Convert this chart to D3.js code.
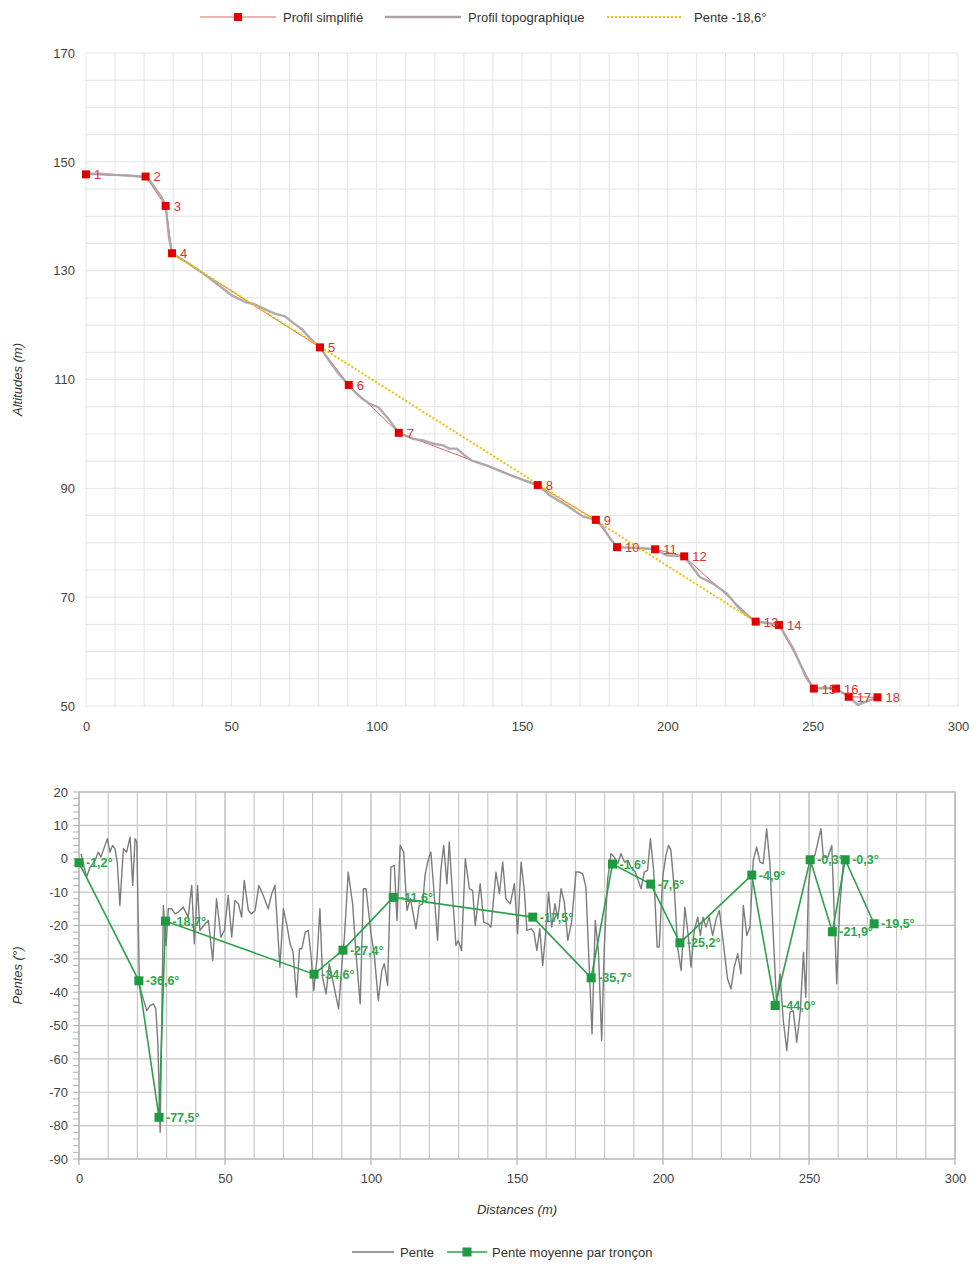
<!DOCTYPE html>
<html>
<head>
<meta charset="utf-8">
<script src="https://cdn.jsdelivr.net/npm/d3@7"></script>
<style>
  body { margin: 0; background: #fff; }
  svg { display: block; font-family: "Liberation Sans", Arial, sans-serif; }
</style>
</head>
<body>
<script>
// --- profil simplifie (points numerotes) ---
var distSimpl = [0, 20.5, 27.4, 29.6, 80.5, 90.4, 107.6, 155.4, 175.4, 182.7, 195.8, 205.8, 230.4, 238.4, 250.4, 258, 262.4, 272.3];
var altSimpl = [147.7, 147.3, 141.9, 133.2, 115.9, 109.0, 100.2, 90.6, 84.2, 79.2, 78.8, 77.5, 65.5, 64.9, 53.2, 53.2, 51.7, 51.6];
var pointLabels = ["1","2","3","4","5","6","7","8","9","10","11","12","13","14","15","16","17","18"];

// --- profil topographique ---
var distTopo = [0, 5, 10, 15, 18, 20.5, 22, 24, 26, 27.4, 28, 28.6, 29.6, 35, 40, 45, 50, 55, 57.6, 62, 65, 68.5, 71, 74.2, 77, 80.5, 84, 87, 90.4, 92.5, 95, 97.7, 100.6, 104, 107.6, 112.6, 116, 119.5, 122.9, 125, 127.5, 130, 132.7, 137.8, 144.7, 151.6, 155.4, 159.6, 165.3, 171, 175.4, 177.4, 180.3, 182.7, 186.6, 191, 195.8, 199.7, 205.8, 211.2, 216, 220.4, 223.8, 227, 230.4, 234, 238.4, 243.3, 247.9, 250.4, 254, 258, 262.4, 265.5, 269.7, 272.3];
var altTopo = [147.8, 147.8, 147.6, 147.5, 147.3, 147.3, 146.5, 145, 143.5, 142, 139, 136, 133.2, 131.4, 129.6, 127.6, 125.5, 124.2, 123.9, 122.8, 122.1, 121.6, 120.5, 119.3, 117.6, 115.9, 113.2, 111, 109, 107.7, 106.5, 105.5, 104.9, 102.8, 100.2, 99.1, 98.8, 98.2, 97.9, 97.3, 97.3, 96.2, 95.1, 94.2, 92.7, 91.3, 90.6, 88.7, 86.9, 84.8, 84.2, 83.2, 80.8, 79.2, 79.1, 79.0, 78.8, 77.7, 77.5, 73.7, 72.4, 70.7, 68.5, 66.8, 65.5, 65.3, 64.9, 60.6, 55.1, 53.2, 53.3, 53.2, 51.7, 50.2, 51.1, 51.6];

// --- droite de pente moyenne (-18,6 deg) ---
var penteDist = [29.6, 230.4];
var penteAlt = [133.2, 65.5];

// --- pente moyenne par troncon (en degres) ---
var penteMoyenne = [-1.2, -36.6, -77.5, -18.7, -34.6, -27.4, -11.6, -17.5, -35.7, -1.6, -7.6, -25.2, -4.9, -44.0, -0.3, -21.9, -0.3, -19.5];

// --- pente brute ---
var distPente = [0.7, 2.6, 3.8, 5.5, 6.6, 7.5, 8.3, 9.7, 10.6, 11.5, 12.3, 13.1, 14.0, 15.2, 16.3, 17.5, 18.4, 19.2, 19.8, 20.7, 22, 23.2, 24.3, 25.5, 26.3, 27.0, 27.8, 28.9, 29.8, 30.6, 31.7, 32.9, 34, 35.7, 37.4, 38.6, 39.5, 40.6, 41.4, 43.2, 44.3, 45.8, 47.1, 48.6, 49.8, 51.1, 52.3, 53.4, 54.6, 55.7, 56.6, 58, 59.1, 60.3, 61.6, 63.1, 64.8, 66, 67.1, 68.8, 70, 71.2, 72.3, 73.3, 74.5, 75.5, 76.3, 77.5, 78.5, 79.4, 80.4, 81.5, 82.5, 83.4, 84.6, 85.7, 86.8, 88.9, 90, 90.9, 92.2, 93.7, 95, 96.3, 97.4, 98.3, 100, 101.1, 102.5, 103.7, 104.6, 105.7, 106.8, 108, 108.9, 110, 111.2, 112.3, 113.5, 115.4, 116.5, 117.7, 118.5, 119.4, 120.5, 121.5, 122.8, 123.9, 124.9, 126, 126.8, 128, 129.1, 129.9, 131, 132.3, 133.7, 134.8, 135.7, 137.4, 138.6, 140, 141.1, 142.8, 144, 145.1, 146.2, 147.7, 149.1, 150.2, 151.4, 152.5, 153.4, 154.8, 155.8, 156.8, 157.8, 158.8, 159.9, 160.8, 161.9, 163, 164, 165.1, 166.2, 167.4, 168.7, 170.2, 171.3, 172.5, 173.6, 174.4, 175.7, 176.8, 177.9, 179, 179.9, 181, 182.2, 183.3, 184.5, 185.6, 186.8, 188, 189, 190.5, 192.5, 193.6, 194.7, 195.7, 196.8, 198, 198.7, 199.9, 201, 201.9, 202.7, 203.9, 205, 206.2, 207.5, 208.7, 209.6, 210.7, 211.9, 212.8, 213.7, 214.7, 215.8, 217, 218.2, 219.3, 220.5, 222.1, 223.3, 224.4, 225.6, 226.7, 227.5, 228.7, 229.8, 230.9, 232.1, 233.2, 234.3, 235.5, 236.6, 237.8, 238.9, 240.1, 241.2, 242.4, 243.5, 244.6, 245.8, 247, 248.1, 248.9, 249.8, 250.9, 252, 253.2, 254.1, 254.9, 256.5, 257.8, 258.9, 259.5, 260.5, 261.8];
var valPente = [1.5, -5.5, -2.5, -0.5, 2, 0.5, 2.5, 6, 2, 4, 3, -1, -14, 3, 2, 6.5, -8, 6, 5, -38, -42, -45.5, -44, -43.5, -45, -55, -82, -14, -26, -15, -15, -16.5, -16, -14.5, -17.5, -8, -25.5, -8, -21.5, -19.5, -18.5, -30.5, -12, -23.5, -21.5, -11, -23.5, -12.5, -13.5, -17.5, -6.5, -15.5, -16.5, -15.5, -8, -11, -15, -10.5, -8, -32.5, -15, -20, -25.5, -28, -41.5, -27, -27, -22, -21.5, -28.5, -39.5, -30, -15, -35.5, -40.5, -31.5, -36, -45, -32, -23.5, -4, -13.5, -30, -43.5, -9, -9, -22.5, -28.5, -42.5, -33.5, -31.5, -38, -2.5, -2, -18.5, 4, 2, -15.5, -12, -21, -14, -13.5, -5, -1, 2, -9, -24.5, -3.5, 4, -7.5, 5, -12, -26, -24.5, -27.5, 0, -9, -9.5, -20, -7.5, -19, -19.5, -20.5, -4, -10.5, -1, -12, -13.5, -7.5, -22.5, -1, -9.5, -21.5, -21, -22, -27.5, -21, -32, -21.5, -10, -20.5, -13.5, -18, -9, -13, -24.5, -19, -4, -4, -4.5, -8.5, -25.5, -52.5, -18.5, -28, -54.5, -26.5, -6.5, 1.5, 0.5, -1.5, 1.5, -1, -0.5, -2.5, -4, -9, -4, -3.5, 6, -3.5, -26.5, -26.5, -5.5, 1, 4, 2.5, -9.5, -26.5, -33.5, -14.5, -23.5, -32.5, -21.5, -17.5, -23, -17.5, -20.5, -17.5, -23, -18, -15.5, -24, -36, -39, -32.5, -28.5, -34.5, -14, -23, -20.5, -0.5, 3.5, -1, -1.5, 9, -1.5, -23.5, -43.5, -34.5, -48.5, -57.5, -46, -45.5, -55, -46, -28, -41.5, -8.5, 0.5, 1, 5.5, 9, 0.5, 0.5, 4, -22.5, -37.5, -15, -0.5];

// --- axes ---
var xTicks = [0, 50, 100, 150, 200, 250, 300];
var yTicksTop = [50, 70, 90, 110, 130, 150, 170];
var yTicksBot = [20, 10, 0, -10, -20, -30, -40, -50, -60, -70, -80, -90];

var fr = function(v){ return v.toFixed(1).replace(".", ","); };
var plain = function(v){ return String(v); };

var svg = d3.select("body").append("svg")
  .attr("width", 974)
  .attr("height", 1265);

// ================= graphique du haut =================
var xT = d3.scaleLinear().domain([0, 300]).range([86, 958]);
var yT = d3.scaleLinear().domain([50, 170]).range([706, 53]);

var gTop = svg.append("g");

// grille
gTop.append("g").selectAll("line").data(d3.range(50, 171, 5)).join("line")
  .attr("x1", xT(0)).attr("x2", xT(300))
  .attr("y1", function(d){ return yT(d); }).attr("y2", function(d){ return yT(d); })
  .attr("stroke", "#e4e4e4").attr("stroke-width", 1);
gTop.append("g").selectAll("line").data(d3.range(0, 301, 10)).join("line")
  .attr("x1", function(d){ return xT(d); }).attr("x2", function(d){ return xT(d); })
  .attr("y1", yT(170)).attr("y2", yT(50))
  .attr("stroke", "#e4e4e4").attr("stroke-width", 1);

gTop.append("g")
  .attr("transform", "translate(" + xT(0) + ",0)")
  .call(d3.axisLeft(yT).tickValues(yTicksTop).tickFormat(plain).tickSize(0).tickPadding(11))
  .call(function(g){ g.select(".domain").remove(); })
  .selectAll("text").attr("font-size", 13).attr("fill", "#444").attr("font-family", "Liberation Sans, Arial, sans-serif");

gTop.append("g")
  .attr("transform", "translate(0," + yT(50) + ")")
  .call(d3.axisBottom(xT).tickValues(xTicks).tickFormat(plain).tickSize(0).tickPadding(16))
  .call(function(g){ g.select(".domain").remove(); })
  .selectAll("text").attr("font-size", 13).attr("fill", "#444").attr("font-family", "Liberation Sans, Arial, sans-serif");

svg.append("text")
  .attr("transform", "translate(22," + ((yT(50) + yT(170)) / 2) + ") rotate(-90)")
  .attr("text-anchor", "middle")
  .attr("font-size", 13).attr("font-style", "italic").attr("fill", "#333")
  .text("Altitudes (m)");

var clipTop = svg.append("clipPath").attr("id", "clipTop").append("rect")
  .attr("x", xT(0) - 6).attr("y", yT(170)).attr("width", xT(300) - xT(0) + 12).attr("height", yT(50) - yT(170));

var lineTop = d3.line()
  .x(function(d){ return xT(d[0]); })
  .y(function(d){ return yT(d[1]); });

var simpl = d3.zip(distSimpl, altSimpl);
var topo = d3.zip(distTopo, altTopo);

// profil simplifie (fin trait rouge)
gTop.append("path").datum(simpl)
  .attr("d", lineTop).attr("fill", "none")
  .attr("stroke", "#e06666").attr("stroke-width", 1);

// profil topographique
gTop.append("path").datum(topo)
  .attr("clip-path", "url(#clipTop)")
  .attr("d", lineTop).attr("fill", "none")
  .attr("stroke", "#aba2a6").attr("stroke-width", 2.4).attr("stroke-opacity", 0.92)
  .attr("stroke-linejoin", "round");

// pente -18,6
gTop.append("path").datum(d3.zip(penteDist, penteAlt))
  .attr("d", lineTop).attr("fill", "none")
  .attr("stroke", "#f2c200").attr("stroke-width", 2)
  .attr("stroke-dasharray", "2,2");

// marqueurs
gTop.append("g").selectAll("rect").data(simpl).join("rect")
  .attr("x", function(d){ return xT(d[0]) - 4; })
  .attr("y", function(d){ return yT(d[1]) - 4; })
  .attr("width", 8).attr("height", 8)
  .attr("fill", "#e00000");

gTop.append("g").selectAll("text").data(simpl).join("text")
  .attr("x", function(d){ return xT(d[0]) + 8; })
  .attr("y", function(d){ return yT(d[1]); })
  .attr("dy", "0.38em")
  .attr("font-size", 13).attr("fill", "#e03030")
  .text(function(d, i){ return pointLabels[i]; });

// legende du haut
var legTop = svg.append("g").attr("font-size", 13).attr("fill", "#333");
legTop.append("line").attr("x1", 200).attr("x2", 276).attr("y1", 17).attr("y2", 17)
  .attr("stroke", "#e06666").attr("stroke-width", 1);
legTop.append("rect").attr("x", 234).attr("y", 13).attr("width", 8).attr("height", 8).attr("fill", "#e00000");
legTop.append("text").attr("x", 283).attr("y", 17).attr("dy", "0.35em").text("Profil simplifié");
legTop.append("line").attr("x1", 385).attr("x2", 461).attr("y1", 17).attr("y2", 17)
  .attr("stroke", "#aba2a6").attr("stroke-width", 2.4);
legTop.append("text").attr("x", 468).attr("y", 17).attr("dy", "0.35em").text("Profil topographique");
legTop.append("line").attr("x1", 607).attr("x2", 683).attr("y1", 17).attr("y2", 17)
  .attr("stroke", "#f2c200").attr("stroke-width", 2).attr("stroke-dasharray", "2,2");
legTop.append("text").attr("x", 694).attr("y", 17).attr("dy", "0.35em").text("Pente -18,6°");

// ================= graphique du bas =================
var xB = d3.scaleLinear().domain([0, 300]).range([79, 955]);
var yB = d3.scaleLinear().domain([-90, 20]).range([1159, 792]);

var gBot = svg.append("g");

gBot.append("g").selectAll("line").data(d3.range(-90, 21, 10)).join("line")
  .attr("x1", xB(0)).attr("x2", xB(300))
  .attr("y1", function(d){ return yB(d); }).attr("y2", function(d){ return yB(d); })
  .attr("stroke", "#c4c4c4").attr("stroke-width", 1.2);
gBot.append("g").selectAll("line").data(d3.range(0, 301, 10)).join("line")
  .attr("x1", function(d){ return xB(d); }).attr("x2", function(d){ return xB(d); })
  .attr("y1", yB(20)).attr("y2", yB(-90))
  .attr("stroke", function(d){ return d % 50 === 0 ? "#b4b4b4" : "#c8c8c8"; })
  .attr("stroke-width", 1.2);

// graduations mineures y
gBot.append("g").selectAll("line").data(d3.range(-90, 21, 2)).join("line")
  .attr("x1", xB(0) - 6).attr("x2", xB(0))
  .attr("y1", function(d){ return yB(d); }).attr("y2", function(d){ return yB(d); })
  .attr("stroke", "#b0b0b0").attr("stroke-width", 1);
// graduations x
gBot.append("g").selectAll("line").data(xTicks).join("line")
  .attr("x1", function(d){ return xB(d); }).attr("x2", function(d){ return xB(d); })
  .attr("y1", yB(-90)).attr("y2", yB(-90) + 6)
  .attr("stroke", "#b0b0b0").attr("stroke-width", 1.2);

gBot.append("rect")
  .attr("x", xB(0)).attr("y", yB(20))
  .attr("width", xB(300) - xB(0)).attr("height", yB(-90) - yB(20))
  .attr("fill", "none").attr("stroke", "#b8b8b8").attr("stroke-width", 1.2);

gBot.append("g")
  .attr("transform", "translate(" + xB(0) + ",0)")
  .call(d3.axisLeft(yB).tickValues(yTicksBot).tickFormat(plain).tickSize(0).tickPadding(11))
  .call(function(g){ g.select(".domain").remove(); })
  .selectAll("text").attr("font-size", 13).attr("fill", "#444").attr("font-family", "Liberation Sans, Arial, sans-serif");

gBot.append("g")
  .attr("transform", "translate(0," + yB(-90) + ")")
  .call(d3.axisBottom(xB).tickValues(xTicks).tickFormat(plain).tickSize(0).tickPadding(15))
  .call(function(g){ g.select(".domain").remove(); })
  .selectAll("text").attr("font-size", 13).attr("fill", "#444").attr("font-family", "Liberation Sans, Arial, sans-serif");

svg.append("text")
  .attr("transform", "translate(22," + ((yB(20) + yB(-90)) / 2) + ") rotate(-90)")
  .attr("text-anchor", "middle")
  .attr("font-size", 13).attr("font-style", "italic").attr("fill", "#333")
  .text("Pentes (°)");

svg.append("text")
  .attr("x", (xB(0) + xB(300)) / 2).attr("y", 1209).attr("dy", "0.35em")
  .attr("text-anchor", "middle")
  .attr("font-size", 13).attr("font-style", "italic").attr("fill", "#333")
  .text("Distances (m)");

var lineBot = d3.line()
  .x(function(d){ return xB(d[0]); })
  .y(function(d){ return yB(d[1]); });

gBot.append("path").datum(d3.zip(distPente, valPente))
  .attr("d", lineBot).attr("fill", "none")
  .attr("stroke", "#7c7c7c").attr("stroke-width", 1.4)
  .attr("stroke-linejoin", "round");

var moy = d3.zip(distSimpl, penteMoyenne);

gBot.append("path").datum(moy)
  .attr("d", lineBot).attr("fill", "none")
  .attr("stroke", "#2aa24a").attr("stroke-width", 1.6);

gBot.append("g").selectAll("rect").data(moy).join("rect")
  .attr("x", function(d){ return xB(d[0]) - 4.5; })
  .attr("y", function(d){ return yB(d[1]) - 4.5; })
  .attr("width", 9).attr("height", 9)
  .attr("fill", "#1e9a40");

gBot.append("g").selectAll("text").data(moy).join("text")
  .attr("x", function(d){ return xB(d[0]) + 7; })
  .attr("y", function(d){ return yB(d[1]); })
  .attr("dy", "0.36em")
  .attr("font-size", 12.5).attr("font-weight", "bold").attr("fill", "#2da84a")
  .text(function(d){ return fr(d[1]) + "°"; });

// legende du bas
var legBot = svg.append("g").attr("font-size", 13).attr("fill", "#333");
legBot.append("line").attr("x1", 352).attr("x2", 394).attr("y1", 1252).attr("y2", 1252)
  .attr("stroke", "#7c7c7c").attr("stroke-width", 1.4);
legBot.append("text").attr("x", 400).attr("y", 1252).attr("dy", "0.35em").text("Pente");
legBot.append("line").attr("x1", 447).attr("x2", 487).attr("y1", 1252).attr("y2", 1252)
  .attr("stroke", "#2aa24a").attr("stroke-width", 1.6);
legBot.append("rect").attr("x", 462.5).attr("y", 1247.5).attr("width", 9).attr("height", 9).attr("fill", "#1e9a40");
legBot.append("text").attr("x", 492).attr("y", 1252).attr("dy", "0.35em").text("Pente moyenne par tronçon");
</script>
</body>
</html>
